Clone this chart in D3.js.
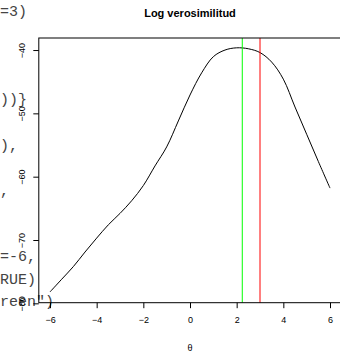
<!DOCTYPE html>
<html>
<head>
<meta charset="utf-8">
<script src="https://cdn.jsdelivr.net/npm/d3@7/dist/d3.min.js"></script>
<style>
  html, body { margin: 0; padding: 0; background: #fff; }
  svg { display: block; }
</style>
</head>
<body>
<svg id="chart" width="340" height="354"></svg>
<script>
// Log-likelihood curve evaluated on a grid of theta values
const theta = [-6, -5.5, -5, -4.5, -4, -3.5, -3, -2.5, -2, -1.5, -1, -0.5, 0,
               0.5, 1, 1.5, 2, 2.5, 3, 3.5, 4, 4.5, 5, 5.5, 6];
const logLik = [-78.2, -76.2, -74.2, -71.9, -69.7, -67.6, -65.8, -63.8, -61.4, -58.3,
                -55.3, -51.2, -47.1, -43.6, -41.05, -40.0, -39.65, -39.8, -40.4, -41.9,
                -44.6, -49.0, -53.3, -57.6, -61.8];

// Reference lines: maximiser (green) and true value (red)
const vlines = [{ value: 2.24, color: "#00ff00" }, { value: 3.0, color: "#ff0000" }];

const xTicks = [-6, -4, -2, 0, 2, 4, 6];
const yTicks = [-40, -50, -60, -70, -80];

// Console fragments visible behind the plotting window
const consoleLines = [
  { text: "=3)", y: 16 },
  { text: "))}", y: 104 },
  { text: "),", y: 150 },
  { text: ",", y: 195 },
  { text: "=-6,", y: 261 },
  { text: "RUE)", y: 284 },
  { text: "reen\")", y: 306 }
];

const svg = d3.select("#chart");

svg.append("g")
  .selectAll("text")
  .data(consoleLines)
  .join("text")
  .attr("x", 0)
  .attr("y", d => d.y)
  .attr("font-family", "'Liberation Mono', monospace")
  .attr("font-size", 15)
  .attr("fill", "#444")
  .text(d => d.text);

const x = d3.scaleLinear().domain([-6.48, 6.48]).range([38.8, 341.2]);
const y = d3.scaleLinear().domain([-79.9, -38.1]).range([302.7, 38]);

const font = "'Liberation Sans', Arial, sans-serif";

// Title
svg.append("text")
  .attr("x", 190)
  .attr("y", 17)
  .attr("text-anchor", "middle")
  .attr("font-family", font)
  .attr("font-weight", "bold")
  .attr("font-size", 11)
  .text("Log verosimilitud");

// Curve
const line = d3.line()
  .x((d, i) => x(theta[i]))
  .y(d => y(d))
  .curve(d3.curveCatmullRom);

svg.append("path")
  .datum(logLik)
  .attr("d", line)
  .attr("fill", "none")
  .attr("stroke", "#000")
  .attr("stroke-width", 1);

// Vertical reference lines
svg.append("g")
  .selectAll("line")
  .data(vlines)
  .join("line")
  .attr("x1", d => x(d.value))
  .attr("x2", d => x(d.value))
  .attr("y1", y.range()[1])
  .attr("y2", y.range()[0])
  .attr("stroke", d => d.color)
  .attr("stroke-width", 1);

// Plot box
svg.append("rect")
  .attr("x", x.range()[0])
  .attr("y", y.range()[1])
  .attr("width", x.range()[1] - x.range()[0])
  .attr("height", y.range()[0] - y.range()[1])
  .attr("fill", "none")
  .attr("stroke", "#000")
  .attr("stroke-width", 1);

// Bottom axis
const xAxis = svg.append("g")
  .attr("transform", `translate(0,${y.range()[0]})`)
  .call(d3.axisBottom(x).tickValues(xTicks).tickSize(5.5).tickPadding(8)
    .tickFormat(d => d < 0 ? "\u2212" + Math.abs(d) : d));
xAxis.select(".domain").remove();
xAxis.selectAll("text").attr("font-family", font).attr("font-size", 9).attr("fill", "#000");

// Left axis with labels parallel to the axis
const yAxis = svg.append("g")
  .attr("transform", `translate(${x.range()[0]},0)`)
  .call(d3.axisLeft(y).tickValues(yTicks).tickSize(5.5).tickFormat(d => d < 0 ? "\u2212" + Math.abs(d) : d));
yAxis.select(".domain").remove();
yAxis.selectAll(".tick text")
  .attr("font-family", font)
  .attr("font-size", 9)
  .attr("fill", "#000")
  .attr("x", null)
  .attr("dy", null)
  .attr("text-anchor", "middle")
  .attr("transform", "translate(-14,0) rotate(-90)");

// Axis title
svg.append("text")
  .attr("x", 190)
  .attr("y", 351)
  .attr("text-anchor", "middle")
  .attr("font-family", font)
  .attr("font-size", 9)
  .text("\u03b8");
</script>
</body>
</html>
